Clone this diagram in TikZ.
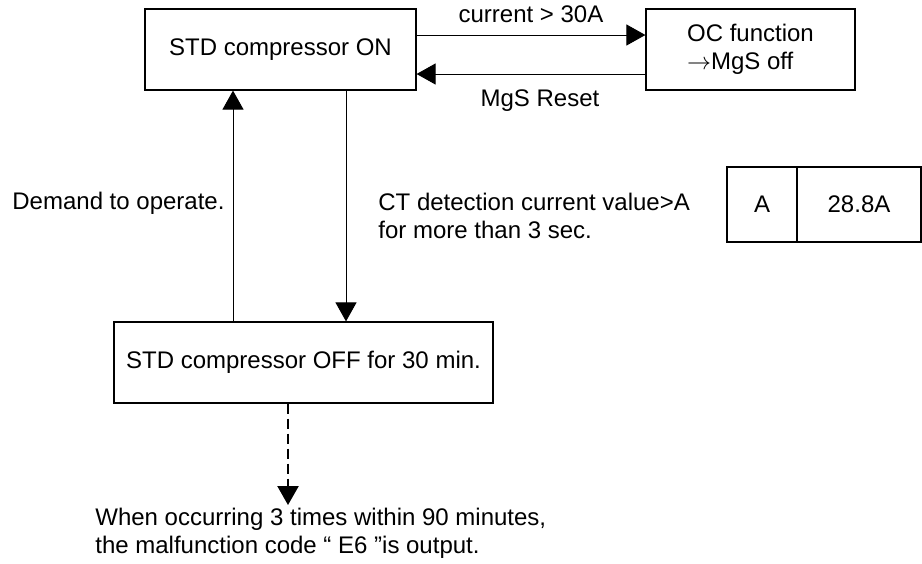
\documentclass[tikz,border=0pt]{standalone}
\usepackage{fontspec}
\setmainfont{Liberation Sans}
\usetikzlibrary{arrows.meta}

\begin{document}
\begin{tikzpicture}[x=0.5pt, y=-0.5pt,
  every node/.style={font=\fontsize{12pt}{14pt}\selectfont, inner sep=0pt},
  box/.style={draw, line width=0.6pt, minimum height=40.5pt},
  flow/.style={-{Triangle[length=9.5pt,width=10.5pt]}, line width=0.5pt}]
\useasboundingbox (0,0) rectangle (922,563);
\node[box, minimum width=135.5pt] (on) at (280.5,49.5) {STD compressor ON};
\node[box, minimum width=104.5pt, align=left] (oc) at (750.5,49.5) {OC function\\$\rightarrow$MgS off};
\node[box, minimum width=189.5pt] (off) at (303.5,362.5) {STD compressor OFF for 30 min.};
\node[box, minimum width=35pt, minimum height=37.5pt] (key) at (762,204.5) {A};
\node[box, minimum width=62pt, minimum height=37.5pt] (val) at (859,204.5) {28.8A};
\node[anchor=west] (demand) at (12,203) {Demand to operate.};
\node[anchor=west, align=left] (ct) at (378,216) {CT detection current value>A\\for more than 3 sec.};
\node[anchor=west, align=left] (code) at (95,533) {When occurring 3 times within 90 minutes,\\the malfunction code “ E6 ”is output.};
\coordinate (tip) at (288,505);
\draw[flow] ([yshift=7.25pt]on.east) -- ([yshift=7.25pt]oc.west) node[midway, above=5.7pt] {current > 30A};
\draw[flow] ([yshift=-12.25pt]oc.west) -- ([yshift=-12.25pt]on.east) node[midway, below=7.7pt, xshift=4.5pt] {MgS Reset};
\draw[flow] ([xshift=-35.25pt]off.north) -- ([xshift=-23.75pt]on.south);
\draw[flow] ([xshift=32.75pt]on.south) -- ([xshift=21.25pt]off.north);
\draw[flow, line width=1.2pt, dash pattern=on 5pt off 2.5pt] ([xshift=-7.75pt]off.south) -- (tip);
\end{tikzpicture}
\end{document}
